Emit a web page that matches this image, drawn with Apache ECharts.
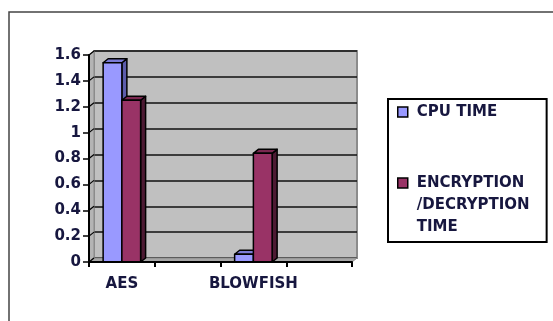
<!DOCTYPE html>
<html>
<head>
<meta charset="utf-8">
<script src="https://cdn.jsdelivr.net/npm/echarts@6/dist/echarts.min.js"></script>
<style>
html,body{margin:0;padding:0;background:#fff;}
#chart{width:553px;height:321px;}
</style>
</head>
<body>
<div id="chart"></div>
<script>
const categories = ['AES', '', 'BLOWFISH', ''];
const cpuTime = [1.54, null, 0.06, null];
const encDecTime = [1.25, null, 0.84, null];
const seriesNames = ['CPU TIME', 'ENCRYPTION\n/DECRYPTION\nTIME'];
const yMin = 0, yMax = 1.6, yStep = 0.2;

const FONT = 'DejaVu Sans';
const TXT = '#17173f';
const DX = 5, DY = -4;

function bar3D(idx, front, side, topc) {
  return function (params, api) {
    const v = api.value(1);
    if (v == null || isNaN(v)) return null;
    const cat = api.value(0);
    const band = api.size([1, 0])[0];
    const w = band * 0.285;
    const b = api.coord([cat, 0]);
    const t = api.coord([cat, v]);
    const x0 = b[0] - w + idx * w, x1 = x0 + w;
    const yb = b[1], yt = t[1];
    const st = {stroke: '#000', lineWidth: 1.5, lineJoin: 'round'};
    return {
      type: 'group',
      children: [
        {type: 'polygon', shape: {points: [[x1, yb], [x1 + DX, yb + DY], [x1 + DX, yt + DY], [x1, yt]]},
          style: Object.assign({fill: side}, st)},
        {type: 'polygon', shape: {points: [[x0, yt], [x0 + DX, yt + DY], [x1 + DX, yt + DY], [x1, yt]]},
          style: Object.assign({fill: topc}, st)},
        {type: 'rect', shape: {x: x0, y: yt, width: w, height: yb - yt},
          style: Object.assign({fill: front}, st)}
      ]
    };
  };
}

function wallDeco(params, api) {
  const cs = params.coordSys;
  const x = cs.x, y = cs.y, w = cs.width, h = cs.height;
  const children = [
    {type: 'polygon', shape: {points: [[x, y], [x + DX, y + DY], [x + DX, y + h + DY], [x, y + h]]},
      style: {fill: '#b4b4b4', stroke: '#8a8a8a', lineWidth: 1}},
    {type: 'polygon', shape: {points: [[x, y + h], [x + DX, y + h + DY], [x + w + DX, y + h + DY], [x + w, y + h]]},
      style: {fill: '#a6a6a6', stroke: '#8a8a8a', lineWidth: 1}}
  ];
  for (let v = yMin; v <= yMax + 1e-9; v += yStep) {
    const p = api.coord([0, v]);
    children.push({type: 'line', shape: {x1: x, y1: p[1], x2: x + DX, y2: p[1] + DY},
      style: {stroke: '#000', lineWidth: 1.2}});
  }
  return {type: 'group', children: children};
}

const chart = echarts.init(document.getElementById('chart'), null, {renderer: 'canvas'});
chart.setOption({
  animation: false,
  backgroundColor: '#fff',
  graphic: [{
    type: 'rect', z: -10, silent: true,
    shape: {x: 9, y: 12, width: 600, height: 400},
    style: {fill: 'none', stroke: '#444', lineWidth: 1.5}
  }],
  grid: [
    {left: 89, top: 55, width: 263, height: 207, containLabel: false, outerBoundsMode: 'none'},
    {left: 89 + DX, top: 55 + DY, width: 263, height: 207, containLabel: false, outerBoundsMode: 'none',
      show: true, backgroundColor: '#c0c0c0', borderColor: '#8c8c8c', borderWidth: 2}
  ],
  xAxis: [
    {type: 'category', gridIndex: 0, data: categories, boundaryGap: true, z: 5,
      axisLine: {lineStyle: {color: '#000', width: 2}},
      axisTick: {show: true, length: 5, interval: 0, lineStyle: {color: '#000', width: 2}},
      axisLabel: {interval: 0, margin: 15, fontFamily: FONT, fontWeight: 'bold', fontSize: 15, color: TXT},
      splitLine: {show: false}},
    {type: 'category', gridIndex: 1, data: categories, show: false}
  ],
  yAxis: [
    {type: 'value', gridIndex: 0, min: yMin, max: yMax, interval: yStep, z: 5,
      axisLine: {show: true, lineStyle: {color: '#000', width: 2}},
      axisTick: {show: true, length: 6, lineStyle: {color: '#000', width: 1.5}},
      axisLabel: {margin: 8, fontFamily: FONT, fontWeight: 'bold', fontSize: 15, color: TXT},
      splitLine: {show: false}},
    {type: 'value', gridIndex: 1, min: yMin, max: yMax, interval: yStep, show: true,
      axisLine: {show: false}, axisTick: {show: false}, axisLabel: {show: false},
      splitLine: {show: true, lineStyle: {color: '#111', width: 1.5}}}
  ],
  legend: {
    orient: 'vertical', left: 388, top: 99,
    padding: [2, 17, 4, 9],
    borderColor: '#000', borderWidth: 2,
    itemWidth: 10, itemHeight: 10, itemGap: 5,
    icon: 'rect',
    itemStyle: {borderColor: '#000', borderWidth: 1.5},
    formatter: function (name) {
      return name.indexOf('\n') >= 0 ? '\n\n' + name : name;
    },
    textStyle: {fontFamily: FONT, fontWeight: 'bold', fontSize: 15, color: TXT, lineHeight: 22,
      padding: [0, 0, 0, 4]},
    data: seriesNames
  },
  series: [
    {type: 'custom', name: '_wall', xAxisIndex: 0, yAxisIndex: 0, z: 1, silent: true,
      renderItem: wallDeco, data: [[0, 0]], encode: {x: 0, y: 1}},
    {type: 'custom', name: seriesNames[0], xAxisIndex: 0, yAxisIndex: 0, z: 3,
      itemStyle: {color: '#9999ff'},
      renderItem: bar3D(0, '#9999ff', '#5c5cab', '#7b7bd6'),
      encode: {x: 0, y: 1},
      data: categories.map((c, i) => [i, cpuTime[i]])},
    {type: 'custom', name: seriesNames[1], xAxisIndex: 0, yAxisIndex: 0, z: 4,
      itemStyle: {color: '#993366'},
      renderItem: bar3D(1, '#993366', '#4d1a33', '#7a2850'),
      encode: {x: 0, y: 1},
      data: categories.map((c, i) => [i, encDecTime[i]])}
  ]
});
</script>
</body>
</html>
